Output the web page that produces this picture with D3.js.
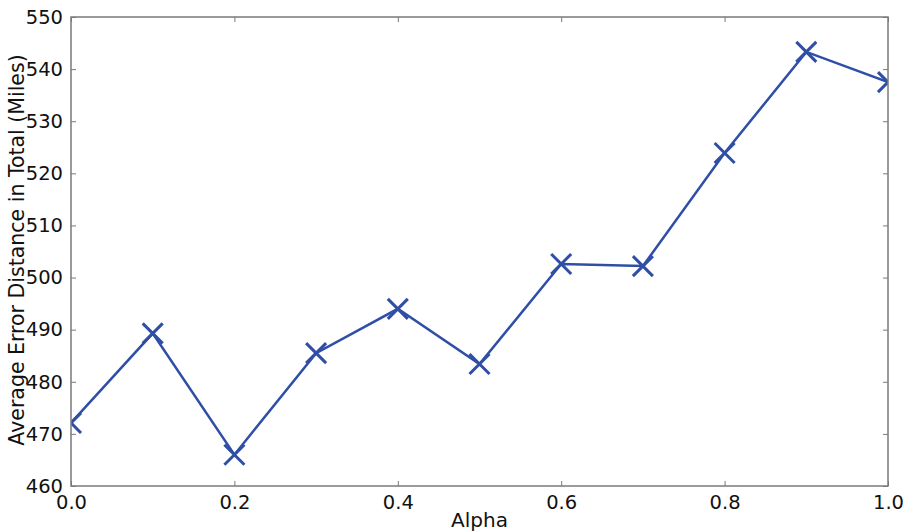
<!DOCTYPE html>
<html>
<head>
<meta charset="utf-8">
<script src="https://cdn.jsdelivr.net/npm/d3@7"></script>
<style>
  body { margin: 0; background: #fff; }
  svg { display: block; }
  text { font-family: "DejaVu Sans", sans-serif; fill: #111; }
</style>
</head>
<body>
<svg id="chart" width="907" height="531"></svg>
<script>
// Average error distance by blending weight alpha
const alphas = [0.0, 0.1, 0.2, 0.3, 0.4, 0.5, 0.6, 0.7, 0.8, 0.9, 1.0];
const errors = [472.1, 489.3, 466.0, 485.5, 494.0, 483.4, 502.6, 502.2, 523.9, 543.3, 537.5];
const xTicks = [0.0, 0.2, 0.4, 0.6, 0.8, 1.0];
const yTicks = [460, 470, 480, 490, 500, 510, 520, 530, 540, 550];

const svg = d3.select("#chart");
const plotL = 71, plotR = 888, plotT = 17, plotB = 486;
const lineColor = "#2f4fa6";
const frameColor = "#7a7a7a";

const x = d3.scaleLinear().domain([0, 1]).range([plotL, plotR]);
const y = d3.scaleLinear().domain([460, 550]).range([plotB, plotT]);

svg.append("defs").append("clipPath").attr("id", "plot-clip")
  .append("rect")
  .attr("x", plotL).attr("y", plotT)
  .attr("width", plotR - plotL).attr("height", plotB - plotT);

// frame background
svg.append("rect")
  .attr("x", plotL).attr("y", plotT)
  .attr("width", plotR - plotL).attr("height", plotB - plotT)
  .attr("fill", "#fff");

// data line and x markers, clipped to the axes box
const plot = svg.append("g").attr("clip-path", "url(#plot-clip)");
const line = d3.line().x((d, i) => x(alphas[i])).y(d => y(d));
plot.append("path").datum(errors)
  .attr("d", line).attr("fill", "none")
  .attr("stroke", lineColor).attr("stroke-width", 2.5);

const m = 10;
plot.append("g").selectAll("path").data(errors).join("path")
  .attr("d", (d, i) => {
    const cx = x(alphas[i]), cy = y(d);
    return `M${cx - m},${cy - m}L${cx + m},${cy + m}M${cx - m},${cy + m}L${cx + m},${cy - m}`;
  })
  .attr("stroke", lineColor).attr("stroke-width", 3).attr("fill", "none");

// frame border
svg.append("rect")
  .attr("x", plotL).attr("y", plotT)
  .attr("width", plotR - plotL).attr("height", plotB - plotT)
  .attr("fill", "none").attr("stroke", frameColor).attr("stroke-width", 1.5);

// axes with inward ticks
const tickLen = 5;
svg.append("g").attr("transform", `translate(0,${plotB})`)
  .call(d3.axisBottom(x).tickValues(xTicks).tickFormat(d3.format(".1f"))
    .tickSizeInner(-tickLen).tickSizeOuter(0).tickPadding(tickLen + 4))
  .call(g => g.select(".domain").remove())
  .call(g => g.selectAll("line").attr("stroke", frameColor))
  .call(g => g.selectAll("text").style("font-size", "19.5px").attr("fill", "#111"));

svg.append("g").attr("transform", `translate(${plotL},0)`)
  .call(d3.axisLeft(y).tickValues(yTicks)
    .tickSizeInner(-tickLen).tickSizeOuter(0).tickPadding(tickLen + 3))
  .call(g => g.select(".domain").remove())
  .call(g => g.selectAll("line").attr("stroke", frameColor))
  .call(g => g.selectAll("text").style("font-size", "19.5px").attr("fill", "#111"));

// mirrored ticks on top and right
svg.append("g").attr("transform", `translate(0,${plotT})`)
  .call(d3.axisTop(x).tickValues(xTicks).tickFormat("").tickSizeInner(-tickLen).tickSizeOuter(0))
  .call(g => g.select(".domain").remove())
  .call(g => g.selectAll("line").attr("stroke", frameColor));
svg.append("g").attr("transform", `translate(${plotR},0)`)
  .call(d3.axisRight(y).tickValues(yTicks).tickFormat("").tickSizeInner(-tickLen).tickSizeOuter(0))
  .call(g => g.select(".domain").remove())
  .call(g => g.selectAll("line").attr("stroke", frameColor));

// axis titles
svg.append("text")
  .attr("x", (plotL + plotR) / 2).attr("y", 527)
  .attr("text-anchor", "middle").style("font-size", "20px")
  .text("Alpha");
svg.append("text")
  .attr("transform", `translate(24,250) rotate(-90)`)
  .attr("text-anchor", "middle").style("font-size", "20.5px")
  .text("Average Error Distance in Total (Miles)");
</script>
</body>
</html>
